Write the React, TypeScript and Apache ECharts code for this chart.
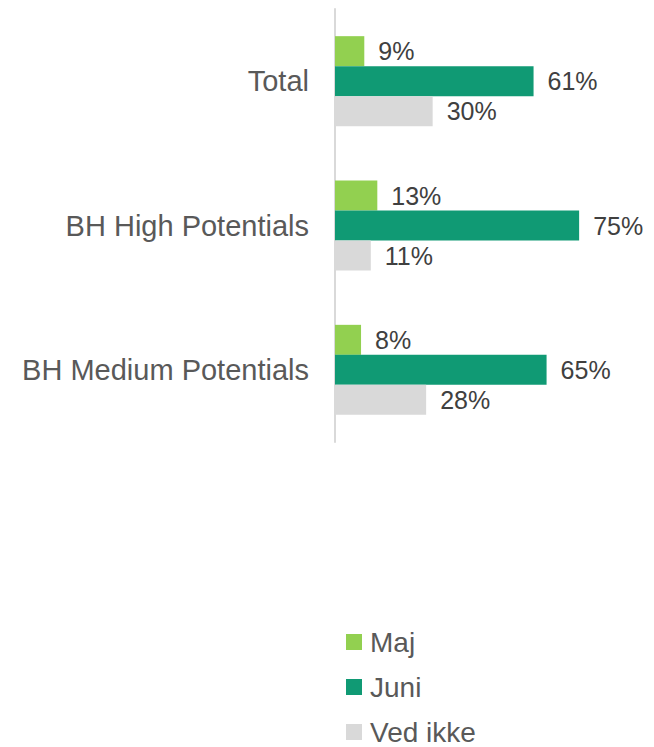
import React, { useEffect, useRef } from "react";
import * as echarts from "echarts";

const categories = ["Total", "BH High Potentials", "BH Medium Potentials"];
const seriesNames = ["Maj", "Juni", "Ved ikke"];
const majValues = [9, 13, 8];
const juniValues = [61, 75, 65];
const vedIkkeValues = [30, 11, 28];
const seriesColors = ["#92D050", "#109A74", "#D9D9D9"];

const FONT = "'Liberation Sans', Arial, sans-serif";

export default function App() {
  const ref = useRef<HTMLDivElement>(null);
  useEffect(() => {
    document.body.style.margin = "0";
    if (!ref.current) return;
    const chart = echarts.init(ref.current, null, { renderer: "svg" });
    const values = [majValues, juniValues, vedIkkeValues];
    chart.setOption({
      animation: false,
      textStyle: { fontFamily: FONT },
      grid: { left: 335, top: 9, width: 319, height: 433, containLabel: false },
      xAxis: {
        type: "value",
        min: 0,
        max: 98,
        show: false,
        splitLine: { show: false },
      },
      yAxis: {
        type: "category",
        data: categories,
        inverse: true,
        axisLine: { show: true, lineStyle: { color: "#D9D9D9", width: 2 } },
        axisTick: { show: false },
        axisLabel: {
          color: "#595959",
          fontSize: 29,
          fontFamily: FONT,
          margin: 26,
        },
      },
      legend: seriesNames.map((name, i) => ({
        orient: "vertical",
        left: 346,
        top: 628 + i * 45,
        padding: 0,
        itemWidth: 16,
        itemHeight: 16,
        icon: "rect",
        data: [name],
        textStyle: {
          color: "#595959",
          fontSize: 28,
          fontFamily: FONT,
          padding: [0, 0, 0, 3],
        },
      })),
      series: seriesNames.map((name, i) => ({
        name,
        type: "bar",
        data: values[i],
        barWidth: 30,
        barGap: "0%",
        itemStyle: { color: seriesColors[i] },
        label: {
          show: true,
          position: "right",
          distance: 14,
          formatter: "{c}%",
          color: "#404040",
          fontSize: 25,
          fontFamily: FONT,
        },
      })),
    });
    return () => chart.dispose();
  }, []);
  return <div ref={ref} style={{ width: 654, height: 747 }} />;
}
